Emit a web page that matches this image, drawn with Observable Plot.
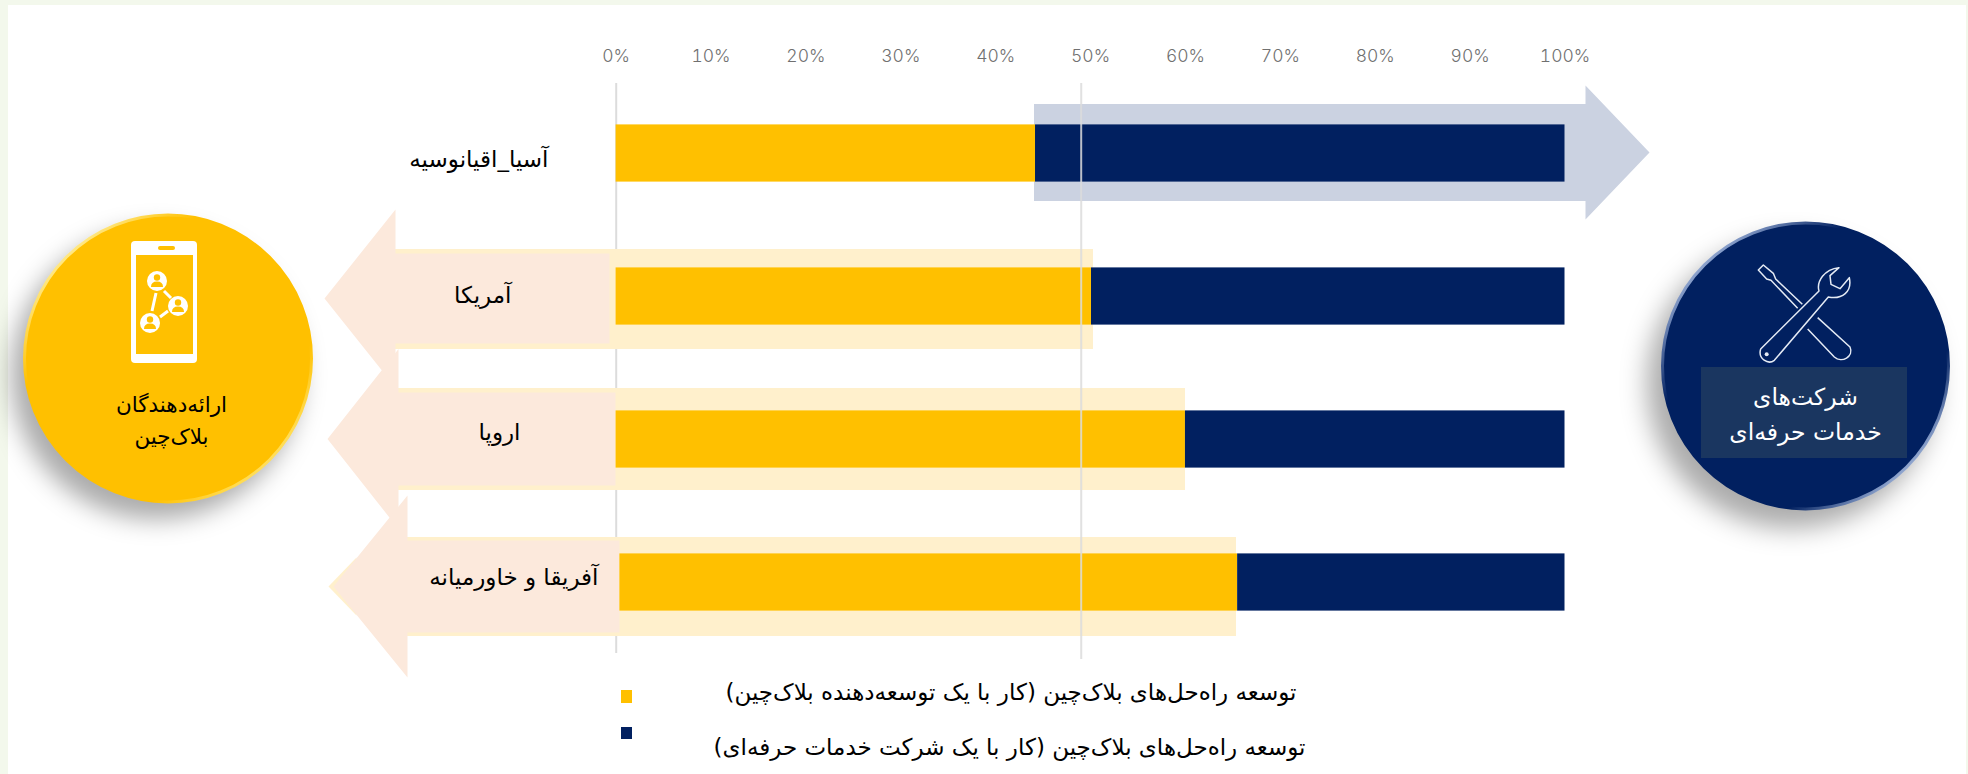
<!DOCTYPE html>
<html lang="fa">
<head>
<meta charset="utf-8">
<script src="https://cdn.jsdelivr.net/npm/d3@7"></script>
<script src="https://cdn.jsdelivr.net/npm/@observablehq/plot@0.6"></script>
<style>
  html,body{margin:0;padding:0;background:#f3f8ec;width:1968px;height:774px;overflow:hidden}
  #sheet{position:absolute;left:8px;top:5px;right:2px;bottom:0;background:#fff}
  #chart{position:absolute;left:0;top:0}
  #chart svg{background:transparent;display:block}
</style>
</head>
<body>
<div id="sheet"></div>
<div id="chart"></div>
<svg width="0" height="0" style="position:absolute">
  <defs>
    <linearGradient id="rimY" x1="0" y1="0" x2="1" y2="1">
      <stop offset="0.1" stop-color="#fff3a8"/><stop offset="0.3" stop-color="#ffc000"/>
      <stop offset="0.72" stop-color="#ffc000"/><stop offset="0.9" stop-color="#ffe878"/>
    </linearGradient>
    <linearGradient id="rimB" x1="0" y1="0" x2="1" y2="1">
      <stop offset="0.12" stop-color="#9fb4dc"/><stop offset="0.32" stop-color="#012060"/>
      <stop offset="0.72" stop-color="#012060"/><stop offset="0.88" stop-color="#a9bde2"/>
    </linearGradient>
  </defs>
</svg>
<script>
// ---- data ----
const categories = ["آسیا_اقیانوسیه", "آمریکا", "اروپا", "آفریقا و خاورمیانه"];
const barStart = [0, 0, 0, 0.4];
const developerShare = [44.2, 50.1, 60, 65.5];
const serviceShareEnd = [100, 100, 100, 100];
const tickValues = [0, 10, 20, 30, 40, 50, 60, 70, 80, 90, 100];
const legendLabels = [
  "توسعه راه‌حل‌های بلاک‌چین (کار با یک توسعه‌دهنده بلاک‌چین)",
  "توسعه راه‌حل‌های بلاک‌چین (کار با یک شرکت خدمات حرفه‌ای)"
];
const providerLines = "ارائه‌دهندگان\nبلاک‌چین";
const serviceLines = "شرکت‌های\nخدمات حرفه‌ای";

// ---- colours and layout ----
const NAVY = "#012060", GOLD = "#ffc000", PEACH = "#fce9dc", CREAM = "#fff0cc", STEEL = "#cbd2e1";
const FONT = "'DejaVu Sans', sans-serif";
const xDomain = [0, 100], xRange = [615.6, 1564.5];
const yDomain = [0, 3], yRange = [153, 582];
const X = d3.scaleLinear().domain(xRange).range(xDomain);   // pixel -> data, decorations only
const Y = d3.scaleLinear().domain(yRange).range(yDomain);
const RLM = "\u200F";

const rows = categories.map((name, i) => ({
  name, row: i, start: barStart[i], mid: developerShare[i], end: serviceShareEnd[i]
}));

// arrow: tip x, back-of-head x, tail x, centre y, body half height, head half height (pixels)
function arrow(tip, back, tail, cy, body, head) {
  return [[tip, cy], [back, cy - head], [back, cy - body], [tail, cy - body],
          [tail, cy + body], [back, cy + body], [back, cy + head], [tip, cy]]
    .map(([a, b]) => ({x: X(a), y: Y(b)}));
}
const arrowMark = (pts, fill) => Plot.line(pts, {x: "x", y: "y", fill, stroke: "none"});
const box = (x1, x2, y1, y2, fill) =>
  Plot.rect([0], {x1: X(x1), x2: X(x2), y1: Y(y1), y2: Y(y2), fill});

// decorative icons, placed in pixels
function phoneIcon() {
  const g = d3.create("svg:g").attr("fill", "#fff").attr("stroke", "none");
  g.append("rect").attr("x", 131).attr("y", 241).attr("width", 66).attr("height", 122).attr("rx", 4);
  g.append("rect").attr("x", 136).attr("y", 255).attr("width", 57).attr("height", 99).attr("fill", GOLD);
  g.append("rect").attr("x", 158).attr("y", 246).attr("width", 17).attr("height", 4).attr("rx", 2).attr("fill", GOLD);
  const people = [[157, 281], [178, 306], [150, 323]];
  g.append("path").attr("stroke", "#fff").attr("stroke-width", 3).attr("fill", "none")
    .attr("d", "M156 293L152 311M164 291L171 298M168 311L160 317");
  for (const [cx, cy] of people) {
    g.append("circle").attr("cx", cx).attr("cy", cy).attr("r", 10);
    g.append("circle").attr("cx", cx).attr("cy", cy - 3.5).attr("r", 3.2).attr("fill", GOLD);
    g.append("path").attr("fill", GOLD)
      .attr("d", `M${cx - 6} ${cy + 6}q0-5.5 6-5.5t6 5.5z`);
  }
  return g.node();
}
function wrenchIcon() {
  const g = d3.create("svg:g")
    .attr("transform", "translate(1745 255) scale(0.3333)")
    .attr("fill", "none").attr("stroke", "#e4eaf4").attr("stroke-width", 4.5).attr("stroke-linejoin", "round");
  g.append("path").attr("d",
    "M47 282L222 108C214 80 238 42 282 38L255 62L258 88L285 101L313 68C322 110 292 134 250 126L88 316C70 330 38 312 47 282Z");
  g.append("circle").attr("cx", 65).attr("cy", 298).attr("r", 6).attr("fill", "#e4eaf4").attr("stroke", "none");
  g.append("path").attr("d",
    "M172 148L92 72L85 55L55 30L40 45L65 72L78 76L158 160");
  g.append("path").attr("d",
    "M188 222L268 306C290 326 328 305 315 276L218 188");
  return g.node();
}

const chart = Plot.plot({
  width: 1968, height: 774,
  marginTop: 61, marginRight: 0, marginBottom: 0, marginLeft: 0,
  style: {background: "transparent", fontFamily: FONT, overflow: "visible"},
  x: {domain: xDomain, range: xRange},
  y: {domain: yDomain, range: yRange, axis: null},
  marks: [
    // 0% reference line sits beneath the arrows
    Plot.ruleX([X(615.7)], {y1: Y(83), y2: Y(653), stroke: "#dcdcdc", strokeWidth: 2}),

    // pale bands
    box(395, 1093, 249, 349, CREAM),
    box(398, 1185, 388, 490, CREAM),
    box(407, 1236, 537, 636, CREAM),

    // arrows
    arrowMark(arrow(328, 356, 356, 586, 0, 29), CREAM),
    arrowMark(arrow(1649, 1585, 1033.5, 152, 48.5, 67), STEEL),
    arrowMark(arrow(324, 395, 609, 298, 45, 89), PEACH),
    arrowMark(arrow(327, 398, 615, 438.5, 46.5, 90), PEACH),
    arrowMark(arrow(333, 407, 619, 586, 46, 91), PEACH),

    // stacked bars
    Plot.rect(rows, {x1: "start", x2: "mid", y1: d => d.row - 0.2, y2: d => d.row + 0.2, fill: GOLD}),
    Plot.rect(rows, {x1: "mid", x2: "end", y1: d => d.row - 0.2, y2: d => d.row + 0.2, fill: NAVY}),

    // drawn mid-chart reference line
    Plot.ruleX([X(1080.7)], {y1: Y(83), y2: Y(659), stroke: "#dcdcdc", strokeWidth: 2, strokeOpacity: 0.85}),

    Plot.axisX({
      anchor: "top", ticks: tickValues, tickSize: 0, tickPadding: 0,
      tickFormat: d => d + "%", label: null, fontSize: 17.5, fontFamily: "Inter, sans-serif",
      fontWeight: 300, color: "#707070", stroke: "none"
    }),

    // category labels
    Plot.text(rows, {
      x: (d, i) => X([548, 511, 520, 598][i]), y: (d, i) => Y([159, 295, 432, 577][i]),
      text: "name", textAnchor: "end", fontSize: 23, fill: "#000", fontFamily: FONT
    }),

    // provider badge
    Plot.dot([0], {x: X(167.5), y: Y(358), r: 143.5, fill: GOLD, stroke: "url(#rimY)", strokeWidth: 3,
      imageFilter: "drop-shadow(-12px 16px 12px rgba(0,0,0,.33))"}),
    phoneIcon,
    Plot.text([providerLines], {x: X(171), y: Y(417), text: d => d, fontSize: 21.5, lineHeight: 1.52, fill: "#000", fontFamily: FONT}),

    // services badge
    Plot.dot([0], {x: X(1805), y: Y(365.5), r: 143, fill: NAVY, stroke: "url(#rimB)", strokeWidth: 3,
      imageFilter: "drop-shadow(-14px 18px 13px rgba(0,0,0,.33))"}),
    wrenchIcon,
    box(1701, 1907, 367, 458, "#1a3660"),
    Plot.text([serviceLines], {x: X(1805), y: Y(411), text: d => d, fontSize: 23.5, lineHeight: 1.5, fill: "#fff", fontFamily: FONT}),

    // legend
    box(621, 632, 690, 703, GOLD),
    box(621, 632, 727, 739, NAVY),
    Plot.text(legendLabels, {
      x: (d, i) => X([1296, 1305][i]), y: (d, i) => Y([692, 747][i]),
      text: d => RLM + d + RLM, textAnchor: "end", fontSize: 23, fill: "#000", fontFamily: FONT
    })
  ]
});
document.getElementById("chart").append(chart);
</script>
</body>
</html>
